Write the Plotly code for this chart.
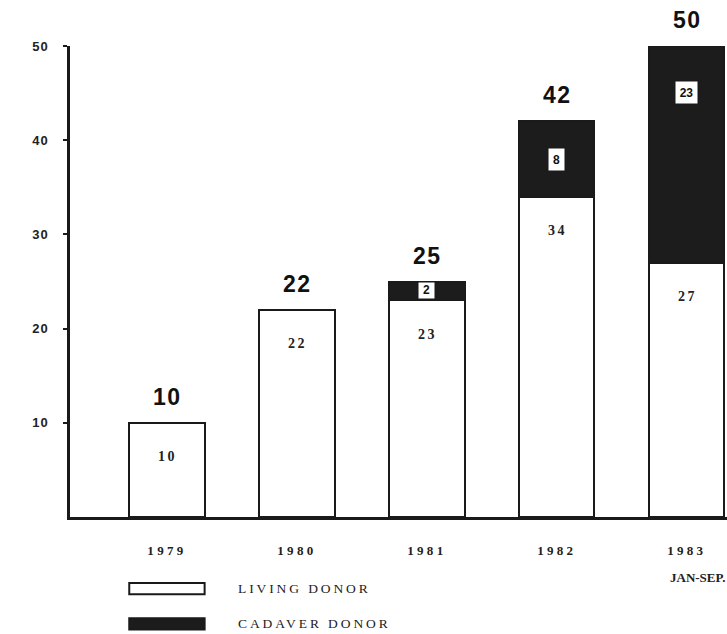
import plotly.graph_objects as go

# Kidney transplants per year, split by donor type
years = ["1979", "1980", "1981", "1982", "1983"]
living = [10, 22, 23, 34, 27]
cadaver = [0, 0, 2, 8, 23]
totals = [l + c for l, c in zip(living, cadaver)]

y_ticks = [10, 20, 30, 40, 50]

BAR_DARK = "#1c1c1c"
INK = "#1a1a1a"

# plot-area geometry (pixels) used for label offsets
W, H = 727, 634
M_L, M_R, M_T, M_B = 70, 0, 46, 117
Y_MAX = 50
PX_PER_UNIT = (H - M_T - M_B) / Y_MAX


def spaced(text, px=2.5):
    return f'<span style="letter-spacing:{px}px">{text}</span>'


positions = list(range(len(years)))

fig = go.Figure()
fig.add_bar(
    x=positions, y=living, name="LIVING DONOR",
    marker=dict(color="white", line=dict(color=INK, width=2)),
    width=0.58,
)
fig.add_bar(
    x=positions, y=cadaver, name="CADAVER DONOR",
    marker=dict(color=BAR_DARK, line=dict(color=INK, width=2)),
    width=0.58,
)

annotations = []
for i, lv, cd, tot in zip(positions, living, cadaver, totals):
    # total above each bar
    annotations.append(dict(
        x=i, y=tot, text=spaced(f"<b>{tot}</b>", 1.5), showarrow=False,
        yanchor="bottom", yshift=11, xshift=1,
        font=dict(family="Liberation Sans", size=23, color="#111"),
    ))
    # living-donor count inside the white segment
    annotations.append(dict(
        x=i, y=lv, text=spaced(f"<b>{lv}</b>", 2.5), showarrow=False,
        yanchor="middle", yshift=-34, xshift=1,
        font=dict(family="Liberation Serif", size=14, color="#222"),
    ))
    # cadaver-donor count in a white box inside the dark segment
    if cd > 0:
        seg_px = cd * PX_PER_UNIT
        annotations.append(dict(
            x=i, y=tot, text=f"<b>{cd}</b>", showarrow=False,
            yanchor="middle", yshift=-min(seg_px / 2, 46),
            width=max(14, 9 * len(str(cd)) + 2), height=min(20, seg_px - 5),
            font=dict(family="Liberation Sans", size=12, color="#111"),
            bgcolor="white", bordercolor=INK, borderwidth=1.5, borderpad=1,
        ))

# period note under the last year
annotations.append(dict(
    x=4, y=-0.128, xref="x", yref="paper", text="<b>JAN-SEP.</b>",
    showarrow=False, xanchor="left", yanchor="middle", xshift=-19,
    font=dict(family="Liberation Serif", size=13, color="#222"),
))

# legend drawn below the axis
legend_rows = [("LIVING DONOR", "white", -0.152), ("CADAVER DONOR", BAR_DARK, -0.227)]
shapes = []
for label, fill, yp in legend_rows:
    shapes.append(dict(
        type="rect", xref="x", yref="paper",
        x0=-0.29, x1=0.29, y0=yp - 0.012, y1=yp + 0.012,
        fillcolor=fill, line=dict(color=INK, width=2),
    ))
    annotations.append(dict(
        x=0.53, y=yp, xref="x", yref="paper", text=spaced(label, 2.9),
        showarrow=False, xanchor="left", yanchor="middle",
        font=dict(family="Liberation Serif", size=13.5, color="#222"),
    ))

fig.update_layout(
    barmode="stack",
    width=W, height=H,
    margin=dict(l=M_L, r=M_R, t=M_T, b=M_B),
    paper_bgcolor="white", plot_bgcolor="white",
    showlegend=False,
    annotations=annotations,
    shapes=shapes,
    xaxis=dict(
        range=[-0.746, 4.31],
        tickvals=positions, ticktext=[spaced(f"<b>{y}</b>", 3.3) for y in years],
        showline=True, linecolor=INK, linewidth=2.5,
        ticks="", showgrid=False, zeroline=False,
        tickfont=dict(family="Liberation Serif", size=13, color="#222"),
        ticklabelstandoff=20,
    ),
    yaxis=dict(
        range=[0, Y_MAX], tickvals=y_ticks,
        ticktext=[spaced(f"<b>{v}</b>", 1) for v in y_ticks],
        showline=True, linecolor=INK, linewidth=2.5,
        ticks="outside", ticklen=4, tickwidth=2, tickcolor=INK,
        showgrid=False, zeroline=False,
        tickfont=dict(family="Liberation Sans", size=13, color="#222"),
        ticklabelstandoff=12,
    ),
)

fig.write_html("out.html")
